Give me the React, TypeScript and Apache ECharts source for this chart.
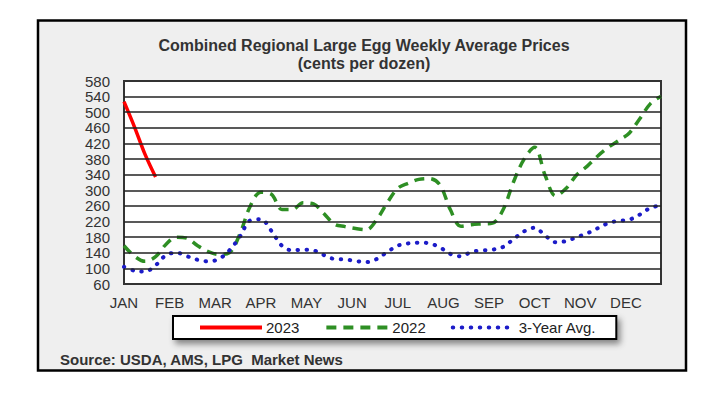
import React, { useEffect, useRef } from "react";
import * as echarts from "echarts";

const MONTHS = ["JAN", "FEB", "MAR", "APR", "MAY", "JUN", "JUL", "AUG", "SEP", "OCT", "NOV", "DEC"];
const Y_TICKS = [60, 100, 140, 180, 220, 260, 300, 340, 380, 420, 460, 500, 540, 580];

// weekly values, cents per dozen (week index = array index)
const PRICES_2023 = [527, 462, 392, 334];
const PRICES_2022 = [
  158, 131, 118, 130, 162, 180, 177, 158, 143, 136, 140, 188, 260, 295, 290, 251,
  251, 268, 265, 240, 213, 207, 202, 199, 225, 268, 305, 318, 328, 330, 314, 250,
  208, 212, 214, 216, 250, 322, 380, 410, 338, 286, 305, 340, 362, 388, 410, 428,
  447, 484, 522, 541,
];
const AVG_3YR = [
  104, 94, 92, 108, 134, 140, 131, 122, 118, 124, 146, 181, 223, 226, 196, 158,
  146, 148, 146, 134, 124, 123, 119, 116, 124, 142, 158, 164, 166, 164, 154, 137,
  131, 142, 146, 148, 155, 175, 195, 204, 184, 167, 170, 180, 190, 203, 216, 222,
  225, 238, 255, 261,
];

const WEEKS_PER_YEAR = 52;
const FONT = '"Liberation Sans", Arial, sans-serif';

const toPairs = (arr: number[]) => arr.map((v, i) => [i, v]);

export default function App() {
  const ref = useRef<HTMLDivElement>(null);
  useEffect(() => {
    if (!ref.current) return;
    const chart = echarts.init(ref.current, undefined, { renderer: "svg" });
    const monthStep = WEEKS_PER_YEAR / 12;
    chart.setOption({
      animation: false,
      backgroundColor: "#ffffff",
      graphic: [
        {
          type: "rect",
          z: -10,
          shape: { x: 38, y: 20.5, width: 648, height: 350 },
          style: { fill: "#efefef", stroke: "#000", lineWidth: 2.5 },
        },
        {
          type: "text",
          z: 10,
          x: 364,
          y: 45,
          style: {
            text: "Combined Regional Large Egg Weekly Average Prices",
            font: `bold 16px ${FONT}`,
            fill: "#333",
            align: "center",
            verticalAlign: "middle",
          },
        },
        {
          type: "text",
          z: 10,
          x: 364,
          y: 63,
          style: {
            text: "(cents per dozen)",
            font: `bold 16px ${FONT}`,
            fill: "#333",
            align: "center",
            verticalAlign: "middle",
          },
        },
        {
          type: "text",
          z: 10,
          x: 60,
          y: 359,
          style: {
            text: "Source: USDA, AMS, LPG  Market News",
            font: `bold 15px ${FONT}`,
            fill: "#333",
            align: "left",
            verticalAlign: "middle",
          },
        },
      ],
      grid: {
        left: 124,
        top: 81,
        right: 58,
        bottom: 112,
        show: true,
        backgroundColor: "#fff",
        borderColor: "#333",
        borderWidth: 2,
      },
      legend: {
        left: 173,
        top: 316,
        padding: [4, 20, 4, 25],
        itemWidth: 62,
        itemHeight: 14,
        itemGap: 25,
        backgroundColor: "#fff",
        borderColor: "#000",
        borderWidth: 2,
        shadowBlur: 6,
        shadowOffsetX: 3,
        shadowOffsetY: 4,
        shadowColor: "rgba(0,0,0,0.45)",
        itemStyle: { opacity: 0 },
        lineStyle: { width: 4 },
        textStyle: { fontSize: 15, color: "#222", fontFamily: FONT, padding: [0, 0, 0, -1] },
        data: ["2023", "2022", "3-Year Avg."],
      },
      xAxis: {
        type: "value",
        min: 0,
        max: WEEKS_PER_YEAR - 1,
        interval: monthStep,
        splitLine: { show: false },
        axisLine: { show: false },
        axisTick: { show: false },
        axisLabel: {
          margin: 11,
          fontSize: 15,
          color: "#333",
          fontFamily: FONT,
          showMaxLabel: false,
          formatter: (v: number) => MONTHS[Math.round(v / monthStep)] ?? "",
        },
      },
      yAxis: {
        type: "value",
        min: Y_TICKS[0],
        max: Y_TICKS[Y_TICKS.length - 1],
        splitLine: { show: false },
        axisLine: { show: false },
        axisTick: { show: false },
        axisLabel: {
          customValues: Y_TICKS,
          margin: 14,
          fontSize: 15,
          color: "#333",
          fontFamily: FONT,
        },
      },
      series: [
        {
          name: "gridlines",
          type: "line",
          data: [],
          z: 1,
          silent: true,
          markLine: {
            silent: true,
            symbol: "none",
            label: { show: false },
            lineStyle: { color: "#222", width: 1.5, type: "solid" },
            data: Y_TICKS.slice(1, -1).map((v) => ({ yAxis: v })),
          },
        },
        {
          name: "2022",
          type: "line",
          z: 3,
          data: toPairs(PRICES_2022),
          smooth: 0.35,
          symbol: "none",
          lineStyle: { color: "#2e8f24", width: 3.5, type: [10, 7] },
          itemStyle: { color: "#2e8f24" },
        },
        {
          name: "3-Year Avg.",
          type: "line",
          z: 3,
          data: toPairs(AVG_3YR),
          smooth: 0.35,
          symbol: "none",
          lineStyle: { color: "#1c1cc8", width: 4, type: [0.5, 8.5], cap: "round" },
          itemStyle: { color: "#1c1cc8" },
        },
        {
          name: "2023",
          type: "line",
          z: 4,
          data: toPairs(PRICES_2023),
          smooth: 0.3,
          symbol: "none",
          lineStyle: { color: "#ff0000", width: 3.5 },
          itemStyle: { color: "#ff0000" },
        },
      ],
    });
    return () => chart.dispose();
  }, []);
  return (
    <div
      ref={ref}
      style={{ position: "fixed", left: 0, top: 0, width: 719, height: 396 }}
    />
  );
}
